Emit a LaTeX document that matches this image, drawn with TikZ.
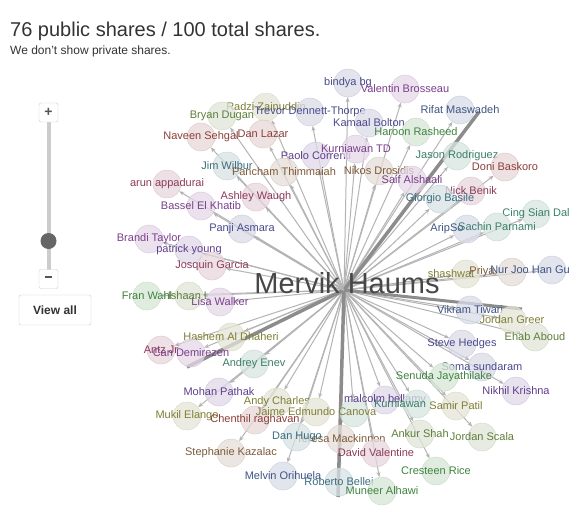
\documentclass[tikz,border=0pt]{standalone}
\usepackage{fontspec}
\setmainfont{Liberation Sans}
\usetikzlibrary{arrows.meta,backgrounds}
% label colours
\definecolor{olv}{HTML}{7F7F35}
\definecolor{ind}{HTML}{4A4A8E}
\definecolor{prp}{HTML}{7B3F8C}
\definecolor{vio}{HTML}{5E3F8C}
\definecolor{grn}{HTML}{3E843E}
\definecolor{mos}{HTML}{5F7F3A}
\definecolor{tea}{HTML}{3A7F6A}
\definecolor{tbl}{HTML}{3A6E7F}
\definecolor{stl}{HTML}{3F5585}
\definecolor{mar}{HTML}{8C3A5A}
\definecolor{rdb}{HTML}{8C3F3A}
\definecolor{brn}{HTML}{7F5A3A}
% other colours
\definecolor{linkgray}{HTML}{B4B4B4}
\definecolor{biggray}{HTML}{8C8C8C}
\definecolor{uigray}{HTML}{CCCCCC}
\definecolor{uitext}{HTML}{555555}
\definecolor{knobgray}{HTML}{666666}
\definecolor{titlegray}{HTML}{333333}
\tikzset{
person/.style={circle, minimum size=28pt, inner sep=0pt,
	draw=#1!30, fill=#1!20, fill opacity=.75},
plabel/.style={text=#1, inner sep=0pt, fill opacity=1, text opacity=1,
	font=\fontsize{11}{13}\selectfont},
share/.style={draw=linkgray, line width=1pt, -{Stealth[length=5pt,width=4pt]}},
bigshare/.style={draw=biggray, line width=3.5pt},
uibox/.style={draw=uigray, fill=white, rounded corners=2pt, minimum size=19pt,
	inner sep=0pt, text=uitext, font=\bfseries\fontsize{14}{14}\selectfont}
}
\newcommand{\person}[5][]{\node[person=#5, label={[plabel=#5,#1]center:#4}] (#2) at (#3) {};}

\begin{document}
\begin{tikzpicture}[x=1pt, y=-1pt]
	\path[use as bounding box] (0,0) rectangle (584,514);
	% heading
	\node[anchor=base west, inner sep=0pt, text=titlegray, font=\fontsize{20}{24}\selectfont] (title) at (10,36) {76 public shares / 100 total shares.};
	\node[anchor=base west, inner sep=0pt, text=titlegray, font=\fontsize{12}{14}\selectfont] (subtitle) at (10,54) {We don't show private shares.};
	% zoom control
	\draw[uigray, line width=4pt] (48.5,112) -- (48.5,279);
	\node[uibox] (zoomin) at (48.5,112.5) {+};
	\node[uibox] (zoomout) at (48.5,279) {\rule[3.5pt]{7pt}{1.6pt}};
	\node[circle, fill=knobgray, minimum size=16pt, inner sep=0pt] (knob) at (48.5,241) {};
	\node[uibox, minimum width=72pt, minimum height=30pt, text=titlegray,
		font=\bfseries\fontsize{12}{14}\selectfont] (viewall) at (55,310) {View all};
	% people
	\coordinate (hub) at (344,290);
	\person{radzi}{266,107}{Radzi Zainuddin}{olv}
	\person{bryan}{222,116}{Bryan Dugan}{mos}
	\person{naveen}{201,137}{Naveen Sehgal}{rdb}
	\person{danlazar}{263,134}{Dan Lazar}{rdb}
	\person{trevor}{310,112}{Trevor Dennett-Thorpe}{ind}
	\person{bindya}{348,83}{bindya bg}{ind}
	\person{valentin}{405,89}{Valentin Brosseau}{prp}
	\person{kamaal}{369,123}{Kamaal Bolton}{ind}
	\person{haroon}{416,132}{Haroon Rasheed}{grn}
	\person{rifat}{460,110}{Rifat Maswadeh}{stl}
	\person{paolo}{316,156}{Paolo Correnti}{vio}
	\person{kurntd}{356,149}{Kurniawan TD}{prp}
	\person{jim}{227,166}{Jim Wilbur}{tbl}
	\person{pancham}{284,172}{Pancham Thimmaiah}{brn}
	\person{nikos}{379,171}{Nikos Drosidis}{brn}
	\person{saif}{412,180}{Saif Alshaali}{prp}
	\person{jason}{457,156}{Jason Rodriguez}{tea}
	\person{doni}{505,167}{Doni Baskoro}{rdb}
	\person{nick}{471,191}{Nick Benik}{mar}
	\person{giorgio}{440,199}{Giorgio Basile}{tbl}
	\person{arun}{167,184}{arun appadurai}{mar}
	\person{ashley}{256,197}{Ashley Waugh}{mar}
	\person{bassel}{201,206}{Bassel El Khatib}{prp}
	\person{panji}{242,229}{Panji Asmara}{ind}
	\person{brandi}{149,239}{Brandi Taylor}{prp}
	\person{patrick}{189,250}{patrick young}{vio}
	\person{josquin}{212,266}{Josquin Garcia}{mar}
	\person{fran}{147,296}{Fran Wahl}{grn}
	\person{ishaan}{189,296}{Ishaan L}{mos}
	\person{lisa}{220,302}{Lisa Walker}{prp}
	\person{cing}{536,214}{Cing Sian Dal}{tea}
	\person[xshift=-20pt]{arip}{467,229}{AripSo}{stl}
	\person{sachin}{497,227}{Sachin Parnami}{tea}
	\person[xshift=-15pt]{shashwat}{466,274}{shashwat}{olv}
	\person[xshift=-30pt]{priya}{512,272}{Priya}{brn}
	\person[xshift=-22pt]{nurjoo}{552,270}{Nur Joo Han Gu}{stl}
	\person{vikram}{470,310}{Vikram Tiwari}{stl}
	\person{jgreer}{512,320}{Jordan Greer}{olv}
	\person{ehab}{535,337}{Ehab Aboud}{mos}
	\person{steve}{462,344}{Steve Hedges}{ind}
	\person{soma}{482,367}{Soma sundaram}{ind}
	\person{senuda}{444,377}{Senuda Jayathilake}{grn}
	\person{nikhil}{516,391}{Nikhil Krishna}{vio}
	\person{hashem}{231,337}{Hashem Al Dhaheri}{olv}
	\person{antz}{161,350}{Antz Jr}{mar}
	\person{can}{191,353}{Can Demirezen}{prp}
	\person{andrey}{254,364}{Andrey Enev}{tea}
	\person{mohan}{219,392}{Mohan Pathak}{vio}
	\person{mukil}{187,416}{Mukil Elango}{olv}
	\person{andy}{277,402}{Andy Charles}{olv}
	\person{chenthil}{255,420}{Chenthil raghavan}{rdb}
	\person{livia}{354,413}{}{tea}
	\person{jaime}{316,412}{Jaime Edmundo Canova}{olv}
	\person{malcolm}{385,400}{malcolm bellamy}{vio}
	\person[xshift=-17pt]{kurnst}{417,404}{Kurniawan}{tea}
	\person{samir}{456,406}{Samir Patil}{olv}
	\person{teresa}{341,439}{Teresa Mackinnon}{brn}
	\person{danhugo}{297,437}{Dan Hugo}{tbl}
	\person{stephanie}{231,453}{Stephanie Kazalac}{brn}
	\person{ankur}{420,434}{Ankur Shah}{mos}
	\person{jscala}{482,437}{Jordan Scala}{mos}
	\person{davidv}{376,453}{David Valentine}{mar}
	\person{cresteen}{436,471}{Cresteen Rice}{grn}
	\person{melvin}{283,476}{Melvin Orihuela}{stl}
	\person{roberto}{339,482}{Roberto Bellei}{tbl}
	\person{muneer}{382,491}{Muneer Alhawi}{grn}
	% free ends of the heavy lines
	\coordinate (rifatend) at (479,112);
	\coordinate (greerend) at (522,309);
	\coordinate (canend) at (187,367);
	\coordinate (robertoend) at (338,497);
	% shares
	\begin{scope}[on background layer]
		\fill[white] (0,0) rectangle (584,514);
		\foreach \p in {radzi,bryan,naveen,danlazar,trevor,bindya,valentin,kamaal,haroon,rifat,
			paolo,kurntd,jim,pancham,nikos,saif,jason,doni,nick,giorgio,arun,ashley,bassel,
			panji,brandi,patrick,josquin,fran,ishaan,lisa,cing,arip,sachin,shashwat,priya,
			nurjoo,vikram,jgreer,ehab,steve,soma,senuda,nikhil,hashem,antz,can,andrey,mohan,
			mukil,andy,chenthil,livia,jaime,malcolm,kurnst,samir,teresa,danhugo,stephanie,
			ankur,jscala,davidv,cresteen,melvin,roberto,muneer}
			\draw[share] (hub) -- (\p);
		\draw[bigshare] (hub) -- (rifatend);
		\draw[bigshare, line width=3pt] (hub) -- (greerend);
		\draw[bigshare] (hub) -- (canend);
		\draw[bigshare] (hub) -- (robertoend);
		\draw[bigshare, line width=2pt, draw=linkgray] (hub) -- (panji);
	\end{scope}
	\node[anchor=base, inner sep=0pt, text=titlegray!90, font=\fontsize{29}{32}\selectfont] (mervik) at (347,293) {Mervik Haums};
\end{tikzpicture}
\end{document}
